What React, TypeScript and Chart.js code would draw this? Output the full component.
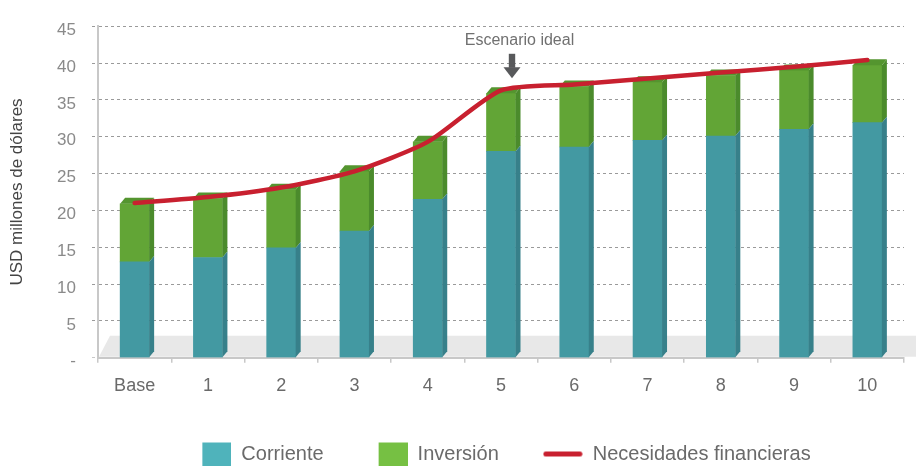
import React, { useEffect, useRef } from 'react';
import { Chart, registerables } from 'chart.js';

Chart.register(...registerables);

// ---- data ----
const categories = ['Base', '1', '2', '3', '4', '5', '6', '7', '8', '9', '10'];
const corriente = [13.0, 13.6, 14.9, 17.2, 21.5, 28.0, 28.6, 29.5, 30.1, 31.0, 31.9];
const inversion = [7.9, 8.0, 7.9, 8.1, 7.8, 7.9, 8.2, 7.9, 8.2, 8.0, 7.8];
const necesidades = [21.0, 21.8, 23.1, 25.3, 29.3, 36.3, 37.1, 37.9, 38.7, 39.5, 40.4];
const seriesNames = ['Corriente', 'Inversión', 'Necesidades financieras'];
const yMin = 0;
const yMax = 45;
const yStep = 5;
const zeroTickLabel = '-';
const yTitle = 'USD millones de dólares';
const annotationText = 'Escenario ideal';
const annotationIndex = 5;

// ---- style ----
const FONT = "'Liberation Sans', Arial, Helvetica, sans-serif";
const TEAL = '#4399a2';
const TEAL_SIDE = '#37808a';
const GREEN = '#62a536';
const GREEN_SIDE = '#4b8b2c';
const GREEN_TOP = '#54952f';
const RED = '#c8202f';
const LEG_TEAL = '#4fb3bb';
const LEG_GREEN = '#76c043';
const DX = 5;
const DY = 6;
const LEGEND_H = 74;
const CHART_TOP = 18;
const CHART_BOTTOM = 357.7;

function makeSquare(color: string) {
  const c = document.createElement('canvas');
  c.width = 40;
  c.height = 35;
  const x = c.getContext('2d')!;
  x.fillStyle = color;
  x.fillRect(11, 6, 29, 29);
  return c;
}

function makeLine(color: string) {
  const c = document.createElement('canvas');
  c.width = 40;
  c.height = 35;
  const x = c.getContext('2d')!;
  x.strokeStyle = color;
  x.lineWidth = 5;
  x.lineCap = 'round';
  x.beginPath();
  x.moveTo(3, 17.5);
  x.lineTo(37, 17.5);
  x.stroke();
  return c;
}

const sideColors = [TEAL_SIDE, GREEN_SIDE];

const bar3d = {
  id: 'bar3d',
  afterLayout(chart: any) {
    const lg = chart.legend;
    if (lg) {
      lg.top += 8;
      lg.bottom += 8;
    }
  },
  beforeDatasetsDraw(chart: any) {
    const { ctx, chartArea } = chart;
    const { left, bottom } = chartArea;
    ctx.save();
    ctx.fillStyle = '#e8e8e8';
    ctx.beginPath();
    ctx.moveTo(left + 1, bottom - 1);
    ctx.lineTo(left + 12, bottom - 22);
    ctx.lineTo(chart.width, bottom - 22);
    ctx.lineTo(chart.width, bottom - 1);
    ctx.closePath();
    ctx.fill();
    ctx.restore();
  },
  afterDatasetDraw(chart: any, args: any) {
    const i = args.index;
    if (i > 1) return;
    const ctx = chart.ctx;
    ctx.save();
    args.meta.data.forEach((el: any) => {
      const { x, y, base, width } = el.getProps(['x', 'y', 'base', 'width'], true);
      const xl = x - width / 2;
      const xr = x + width / 2;
      ctx.fillStyle = sideColors[i];
      ctx.beginPath();
      ctx.moveTo(xr, y);
      ctx.lineTo(xr + DX, y - DY);
      ctx.lineTo(xr + DX, base - DY);
      ctx.lineTo(xr, base);
      ctx.closePath();
      ctx.fill();
      if (i === 1) {
        ctx.fillStyle = GREEN_TOP;
        ctx.beginPath();
        ctx.moveTo(xl, y);
        ctx.lineTo(xl + DX, y - DY);
        ctx.lineTo(xr + DX, y - DY);
        ctx.lineTo(xr, y);
        ctx.closePath();
        ctx.fill();
      }
    });
    ctx.restore();
  },
  afterDatasetsDraw(chart: any) {
    const ctx = chart.ctx;
    const xs = chart.scales.x;
    const ys = chart.scales.y;
    const ax = xs.getPixelForValue(annotationIndex) + 11;
    const tip = ys.getPixelForValue(necesidades[annotationIndex]) - 12;
    ctx.save();
    ctx.fillStyle = '#58595b';
    ctx.fillRect(ax - 3.2, tip - 24.5, 6.4, 14);
    ctx.beginPath();
    ctx.moveTo(ax - 8.5, tip - 11);
    ctx.lineTo(ax + 8.5, tip - 11);
    ctx.lineTo(ax, tip);
    ctx.closePath();
    ctx.fill();
    ctx.fillStyle = '#707070';
    ctx.font = `16px ${FONT}`;
    ctx.textAlign = 'center';
    ctx.textBaseline = 'middle';
    ctx.fillText(annotationText, ax + 7.5, tip - 38);
    ctx.restore();
  },
};

export default function App() {
  const ref = useRef<HTMLCanvasElement>(null);

  useEffect(() => {
    const canvas = ref.current!;
    const legendImgs = [makeSquare(LEG_TEAL), makeSquare(LEG_GREEN), makeLine(RED)];

    const chart = new Chart(canvas, {
      type: 'bar',
      data: {
        labels: categories,
        datasets: [
          {
            type: 'bar',
            label: seriesNames[0],
            data: corriente,
            backgroundColor: TEAL,
            borderWidth: 0,
            barThickness: 29,
            stack: 'fin',
            order: 1,
          },
          {
            type: 'bar',
            label: seriesNames[1],
            data: inversion,
            backgroundColor: GREEN,
            borderWidth: 0,
            barThickness: 29,
            stack: 'fin',
            order: 1,
          },
          {
            type: 'line',
            label: seriesNames[2],
            data: necesidades,
            borderColor: RED,
            backgroundColor: RED,
            borderWidth: 4.5,
            pointRadius: 0,
            pointHoverRadius: 0,
            tension: 0.22,
            borderCapStyle: 'round',
            borderJoinStyle: 'round',
            fill: false,
            stack: 'line',
            order: 0,
          } as any,
        ],
      },
      options: {
        responsive: false,
        animation: false,
        devicePixelRatio: 1,
        layout: { padding: { top: CHART_TOP, right: 12, bottom: 0, left: 0 } },
        plugins: {
          tooltip: { enabled: false },
          legend: {
            position: 'bottom',
            fullSize: false,
            labels: {
              usePointStyle: true,
              pointStyleWidth: 40,
              padding: 44,
              color: '#6a6a6a',
              font: { family: FONT, size: 20 },
              generateLabels: (ch: any) =>
                ch.data.datasets.map((ds: any, i: number) => ({
                  text: ds.label,
                  pointStyle: legendImgs[i],
                  fillStyle: 'rgba(0,0,0,0)',
                  strokeStyle: 'rgba(0,0,0,0)',
                  lineWidth: 0,
                  hidden: false,
                  datasetIndex: i,
                  fontColor: '#6a6a6a',
                })),
            },
          } as any,
        },
        scales: {
          x: {
            stacked: true,
            offset: true,
            grid: {
              display: true,
              offset: true,
              drawOnChartArea: false,
              drawTicks: true,
              tickLength: 5,
              color: '#c8c8c8',
              tickColor: '#c8c8c8',
              lineWidth: 1.5,
            },
            border: { display: true, color: '#c8c8c8', width: 2 },
            ticks: {
              color: '#6a6a6a',
              font: { family: FONT, size: 18 },
              padding: 13,
              autoSkip: false,
              maxRotation: 0,
            },
            afterFit: (s: any) => {
              s.height = 466 - CHART_BOTTOM - LEGEND_H;
            },
          },
          y: {
            stacked: true,
            min: yMin,
            max: yMax,
            ticks: {
              stepSize: yStep,
              color: '#8a8a8a',
              font: { family: FONT, size: 17 },
              padding: 16,
              labelOffset: 4,
              callback: (v: any) => (Number(v) === 0 ? zeroTickLabel : String(v)),
            },
            grid: {
              color: (c: any) => (c.tick && c.tick.value === 0 ? 'rgba(0,0,0,0)' : '#9a9a9a'),
              tickColor: (c: any) => (c.tick && c.tick.value === 0 ? '#c8c8c8' : '#9a9a9a'),
              tickLength: 6,
              tickBorderDash: [3, 3],
              lineWidth: 1,
            },
            border: { display: true, color: '#c8c8c8', width: 2, dash: [3, 3] },
            title: {
              display: true,
              text: yTitle,
              color: '#444444',
              font: { family: FONT, size: 17 },
              padding: { top: 7, bottom: 0 },
            },
            afterFit: (s: any) => {
              s.width = 98;
            },
          },
        },
      } as any,
      plugins: [bar3d as any],
    });

    return () => chart.destroy();
  }, []);

  return (
    <div style={{ position: 'absolute', left: 0, top: 0, width: 916, height: 466, background: '#fff' }}>
      <canvas ref={ref} width={916} height={466} style={{ display: 'block', width: 916, height: 466 }} />
    </div>
  );
}
